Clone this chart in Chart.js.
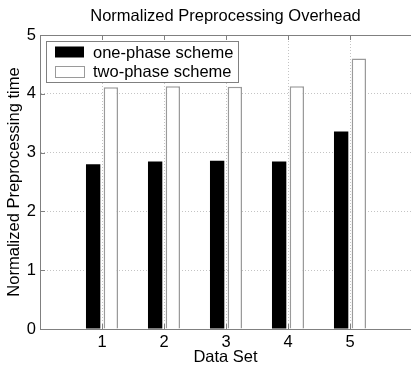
<!DOCTYPE html>
<html>
<head>
<meta charset="utf-8">
<script src="https://cdn.jsdelivr.net/npm/chart.js@4/dist/chart.umd.min.js"></script>
<style>
  html, body { margin: 0; padding: 0; background: #ffffff; overflow: hidden; }
  #wrap { width: 411px; height: 367px; }
</style>
</head>
<body>
<div id="wrap"><canvas id="c" width="411" height="367"></canvas></div>
<script>
// ---- data ----
const categories = [1, 2, 3, 4, 5];
const onePhase = [2.80, 2.85, 2.86, 2.85, 3.36];
const twoPhase = [4.11, 4.13, 4.12, 4.13, 4.60];
const seriesLabels = ['one-phase scheme', 'two-phase scheme'];
const xTickLabels = ['1', '2', '3', '4', '5'];
const yTickValues = [0, 1, 2, 3, 4, 5];
const chartTitle = 'Normalized Preprocessing Overhead';
const xTitle = 'Data Set';
const yTitle = 'Normalized Preprocessing time';

const FONT = "'Liberation Sans', Arial, Helvetica, sans-serif";
const FS = 16.5;
const AXIS_COLOR = '#808080';
const GRID_COLOR = '#c4c4c4';

const toPoints = (vals) => categories.map((c, i) => ({ x: c, y: vals[i] }));

// Legend boxed inside the plot area (top-left), like the reference
const boxedLegend = {
  id: 'boxedLegend',
  afterDatasetsDraw(chart) {
    const { ctx, chartArea } = chart;
    const left = chartArea.left + 6, top = chartArea.top + 6;
    const w = 192, h = 41;
    ctx.save();
    ctx.fillStyle = '#ffffff';
    ctx.fillRect(left, top, w, h);
    ctx.strokeStyle = AXIS_COLOR;
    ctx.lineWidth = 1;
    ctx.strokeRect(Math.round(left) + 0.5, Math.round(top) + 0.5, w, h);
    ctx.font = FS + 'px ' + FONT;
    ctx.textBaseline = 'middle';
    ctx.textAlign = 'left';
    chart.data.datasets.forEach((ds, i) => {
      const cy = top + 11 + i * 19;
      const sx = left + 9, sw = 29, sh = 11;
      ctx.fillStyle = ds.backgroundColor;
      ctx.fillRect(sx, cy - sh / 2, sw, sh);
      if (ds.borderWidth) {
        ctx.strokeStyle = ds.borderColor;
        ctx.lineWidth = 1;
        ctx.strokeRect(Math.round(sx) + 0.5, Math.round(cy - sh / 2) + 0.5, sw, sh);
      }
      ctx.fillStyle = '#000000';
      ctx.fillText(ds.label, left + 47, cy + 1);
    });
    ctx.restore();
  }
};

// MATLAB-style inward tick marks and top border
const frameTicks = {
  id: 'frameTicks',
  afterDraw(chart) {
    const { ctx, chartArea, scales } = chart;
    ctx.save();
    ctx.strokeStyle = AXIS_COLOR;
    ctx.lineWidth = 1;
    ctx.beginPath();
    const topY = Math.round(chartArea.top) + 0.5;
    ctx.moveTo(chartArea.left, topY);
    ctx.lineTo(chartArea.right, topY);
    const L = 5;
    scales.x.ticks.forEach(t => {
      const px = Math.round(scales.x.getPixelForValue(t.value)) + 0.5;
      ctx.moveTo(px, chartArea.top);
      ctx.lineTo(px, chartArea.top + L);
      ctx.moveTo(px, chartArea.bottom);
      ctx.lineTo(px, chartArea.bottom - L);
    });
    scales.y.ticks.forEach(t => {
      const py = Math.round(scales.y.getPixelForValue(t.value)) + 0.5;
      ctx.moveTo(chartArea.left, py);
      ctx.lineTo(chartArea.left + L, py);
    });
    ctx.stroke();
    ctx.restore();
  }
};

new Chart(document.getElementById('c'), {
  type: 'bar',
  data: {
    datasets: [
      {
        label: seriesLabels[0],
        data: toPoints(onePhase),
        backgroundColor: '#000000',
        borderWidth: 0
      },
      {
        label: seriesLabels[1],
        data: toPoints(twoPhase),
        backgroundColor: '#ffffff',
        borderColor: '#9a9a9a',
        borderWidth: 1.5
      }
    ]
  },
  options: {
    responsive: false,
    animation: false,
    devicePixelRatio: 1,
    categoryPercentage: 0.571,
    barPercentage: 0.81,
    layout: { padding: 0 },
    plugins: {
      legend: { display: false },
      tooltip: { enabled: false },
      title: {
        display: true,
        fullSize: false,
        text: chartTitle,
        color: '#000000',
        font: { family: FONT, size: FS, weight: 'normal' },
        padding: { top: 6.5, bottom: 8.7 }
      }
    },
    scales: {
      x: {
        type: 'linear',
        offset: false,
        min: 0,
        max: 371 / 62,
        afterBuildTicks(scale) {
          scale.ticks = categories.map(v => ({ value: v }));
        },
        afterFit(scale) { scale.height = 38; },
        ticks: {
          color: '#000000',
          font: { family: FONT, size: FS },
          padding: 4,
          maxRotation: 0,
          autoSkip: false,
          callback: (v) => {
            const i = categories.indexOf(v);
            return i >= 0 ? xTickLabels[i] : '';
          }
        },
        grid: {
          offset: false,
          color: GRID_COLOR,
          lineWidth: 1,
          drawTicks: false
        },
        border: { display: true, color: AXIS_COLOR, width: 1, dash: [1, 2] },
        title: {
          display: true,
          text: xTitle,
          color: '#000000',
          font: { family: FONT, size: FS },
          padding: { top: 0, bottom: 0 }
        }
      },
      y: {
        min: 0,
        max: 5,
        afterBuildTicks(scale) {
          scale.ticks = yTickValues.map(v => ({ value: v }));
        },
        afterFit(scale) { scale.width = 40; },
        ticks: {
          color: '#000000',
          font: { family: FONT, size: FS },
          padding: 4
        },
        grid: {
          color: (ctx) => (ctx.tick && (ctx.tick.value === 0 || ctx.tick.value === 5)) ? 'rgba(0,0,0,0)' : GRID_COLOR,
          lineWidth: 1,
          drawTicks: false
        },
        border: { display: true, color: AXIS_COLOR, width: 1, dash: [1, 2] },
        title: {
          display: true,
          text: yTitle,
          color: '#000000',
          font: { family: FONT, size: FS },
          padding: { top: 5, bottom: 0 }
        }
      }
    }
  },
  plugins: [boxedLegend, frameTicks]
});
</script>
</body>
</html>
